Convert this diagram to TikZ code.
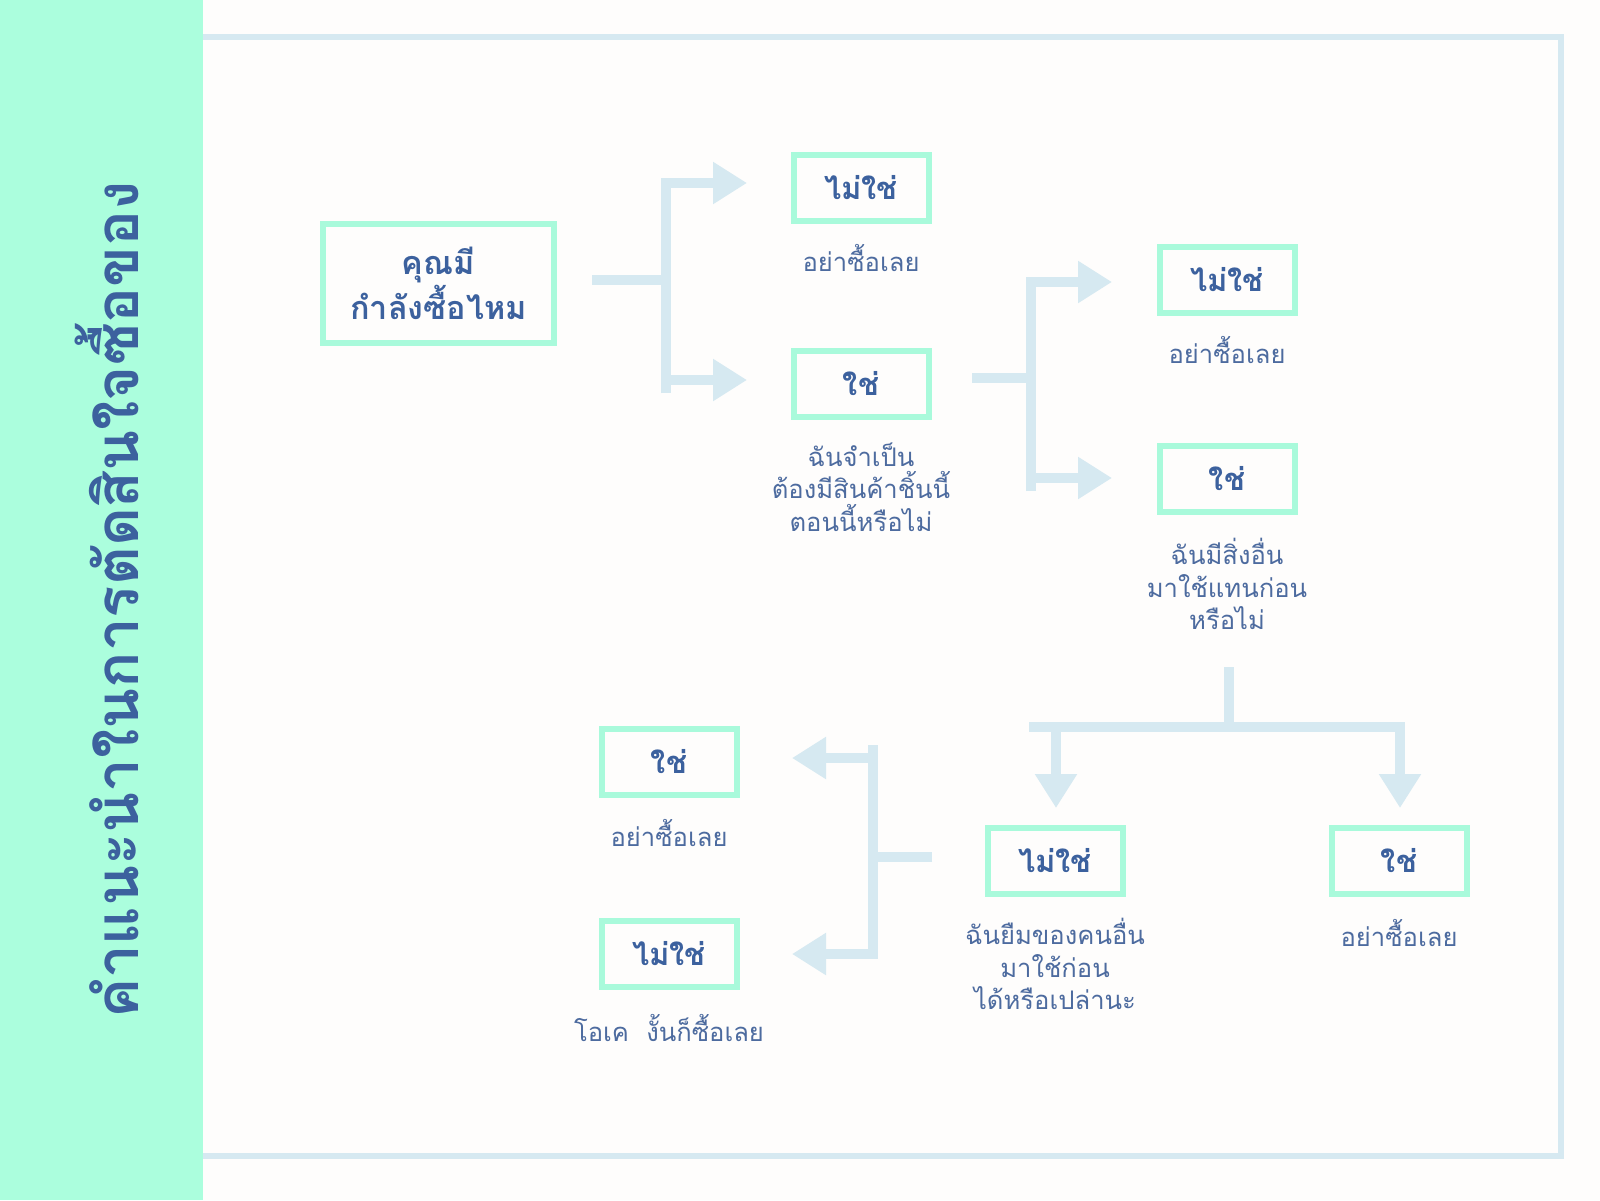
\documentclass[tikz,border=0pt]{standalone}
\usepackage{fontspec}
\newfontfamily\thai[Script=Thai]{Loma}
\usetikzlibrary{arrows.meta}
\definecolor{mint}{HTML}{ABFEDD}
\definecolor{boxmint}{HTML}{A9FADB}
\definecolor{conn}{HTML}{D6E9F1}
\definecolor{tblue}{HTML}{3C619E}
\definecolor{bblue}{HTML}{4D6B9F}
\definecolor{bg}{HTML}{FEFDFC}
\begin{document}
\begin{tikzpicture}[x=0.5pt,y=-0.5pt,
  qbox/.style={draw=boxmint, line width=3pt, minimum width=67.5pt, minimum height=33pt, inner sep=0pt,
    font=\thai\bfseries\fontsize{15.5}{20}\selectfont, text=tblue},
  startbox/.style={qbox, minimum width=115.5pt, minimum height=59.5pt, align=center,
    font=\thai\bfseries\fontsize{16.2}{19.5}\selectfont},
  ans/.style={font=\thai\fontsize{12.8}{16.25}\selectfont, text=bblue, align=center, inner sep=0pt},
  link/.style={draw=conn, line width=5pt, line join=miter},
  arr/.style={link, -{Triangle[length=17pt,width=20pt]}},
]
\fill[bg] (0,0) rectangle (1600,1200);
\useasboundingbox (0,0) rectangle (1600,1200);
% frame
\draw[conn, line width=3pt] (200,37) rectangle (1561,1156);
% side panel
\fill[mint] (0,0) rectangle (203,1200);
\node[rotate=90, text=tblue, font=\thai\bfseries\fontsize{30}{30}\selectfont] (title) at (107,600) {คำแนะนำในการตัดสินใจซื้อของ};

% boxes
\node[startbox] (S) at (438.5,283) {คุณมี\\กำลังซื้อไหม};
\node[qbox] (A1) at (861,188) {ไม่ใช่};
\node[qbox] (A2) at (861,384) {ใช่};
\node[qbox] (B1) at (1227,280) {ไม่ใช่};
\node[qbox] (B2) at (1227,479) {ใช่};
\node[qbox] (C1) at (1055,861) {ไม่ใช่};
\node[qbox] (C2) at (1399,861) {ใช่};
\node[qbox] (D1) at (669,762) {ใช่};
\node[qbox] (D2) at (669,954) {ไม่ใช่};

% answers
\node[ans] (a1) at (861,258) {อย่าซื้อเลย};
\node[ans] (a2) at (861,487) {ฉันจำเป็น\\ต้องมีสินค้าชิ้นนี้\\ตอนนี้หรือไม่};
\node[ans] (b1) at (1227,350) {อย่าซื้อเลย};
\node[ans] (b2) at (1227,584) {ฉันมีสิ่งอื่น\\มาใช้แทนก่อน\\หรือไม่};
\node[ans] (c1) at (1055,964) {ฉันยืมของคนอื่น\\มาใช้ก่อน\\ได้หรือเปล่านะ};
\node[ans] (c2) at (1399,933) {อย่าซื้อเลย};
\node[ans] (d1) at (669,833) {อย่าซื้อเลย};
\node[ans] (d2) at (669,1028) {โอเค\ \ งั้นก็ซื้อเลย};

% fork 1: from S
\coordinate (s1) at (592,280);
\coordinate (f1) at (666,280);
\coordinate (f1b) at (666,393);
\coordinate (t11) at (747,183);
\coordinate (t12) at (747,380);
\draw[link] (s1) -- (f1);
\draw[arr] (f1b) -- (f1b |- t11) -- (t11);
\draw[arr] (f1 |- t12) -- (t12);

% fork 2: from a2 / A2
\coordinate (s2) at (972,378);
\coordinate (f2) at (1031,378);
\coordinate (f2b) at (1031,491);
\coordinate (t21) at (1112,282);
\coordinate (t22) at (1112,478);
\draw[link] (s2) -- (f2);
\draw[arr] (f2b) -- (f2b |- t21) -- (t21);
\draw[arr] (f2 |- t22) -- (t22);

% fork 3: from b2 down
\coordinate (s3) at (1229,667);
\coordinate (f3) at (1229,727);
\coordinate (f3l) at (1029,727);
\coordinate (t31) at (1056,808);
\coordinate (t32) at (1400,808);
\draw[link] (s3) -- (f3);
\draw[arr] (f3l) -- (f3l -| t32) -- (t32);
\draw[arr] (f3 -| t31) -- (t31);

% fork 4: from C1 leftwards
\coordinate (s4) at (932,857);
\coordinate (f4) at (873,857);
\coordinate (f4t) at (873,745);
\coordinate (t41) at (792,758);
\coordinate (t42) at (792,954);
\draw[link] (s4) -- (f4);
\draw[arr] (f4t) -- (f4t |- t42) -- (t42);
\draw[arr] (f4 |- t41) -- (t41);
\end{tikzpicture}
\end{document}
